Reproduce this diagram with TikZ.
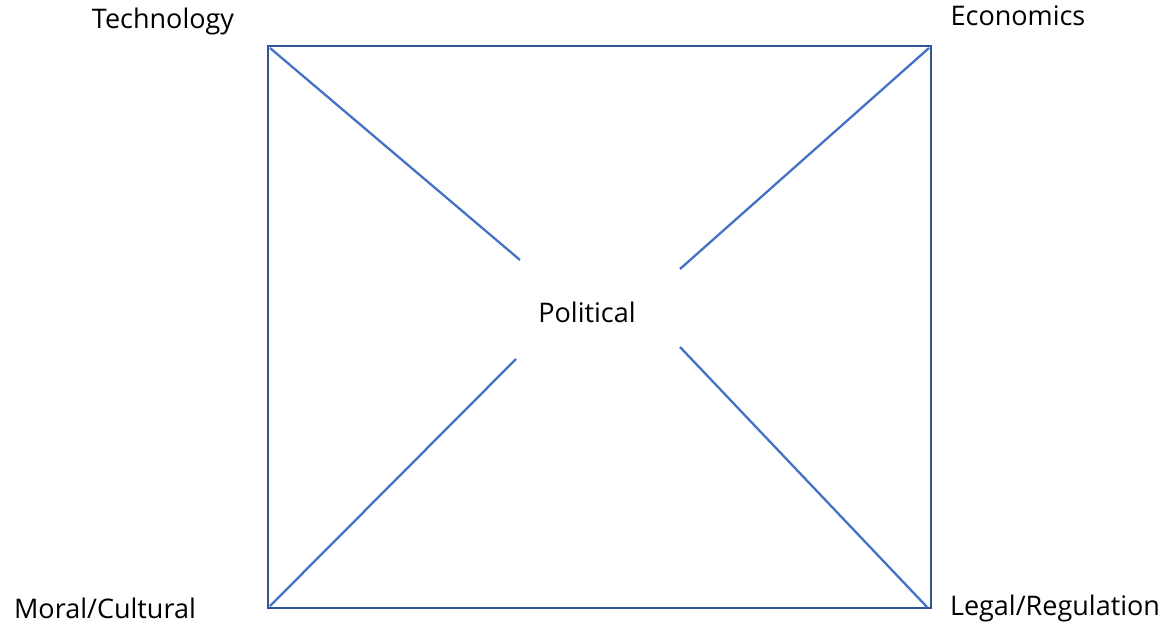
\documentclass[tikz,border=0pt]{standalone}
\usepackage{fontspec}
\setmainfont{Open Sans}
\begin{document}
\begin{tikzpicture}[x=1pt,y=-1pt,
  frame/.style={draw=frameblue,line width=2.8pt},
  diag/.style={draw=diagblue,line width=2.3pt},
  lbl/.style={font=\fontsize{27}{32}\selectfont,text=black,inner sep=0pt}]
\definecolor{frameblue}{HTML}{2F5597}
\definecolor{diagblue}{HTML}{4472C4}
\useasboundingbox (0,0) rectangle (1165,626);
\coordinate (tl) at (268,46);
\coordinate (tr) at (931,46);
\coordinate (br) at (931,608);
\coordinate (bl) at (268,608);
\draw[frame] (tl) -- (tr) -- (br) -- (bl) -- cycle;
\coordinate (tli) at (520,260);
\coordinate (tri) at (680,269);
\coordinate (bli) at (516,359);
\coordinate (bri) at (680,347);
\coordinate (tlo) at (270,48);
\coordinate (tro) at (929,48);
\coordinate (blo) at (270,606);
\coordinate (bro) at (927,607);
\draw[diag] (tlo) -- (tli);
\draw[diag] (tro) -- (tri);
\draw[diag] (blo) -- (bli);
\draw[diag] (bro) -- (bri);
\node[lbl] (tech) at (163,21) {Technology};
\node[lbl] (econ) at (1018,16) {Economics};
\node[lbl] (moral) at (105,608) {Moral/Cultural};
\node[lbl] (legal) at (1055,608) {Legal/Regulation};
\node[lbl] (pol) at (587,312) {Political};
\end{tikzpicture}
\end{document}
